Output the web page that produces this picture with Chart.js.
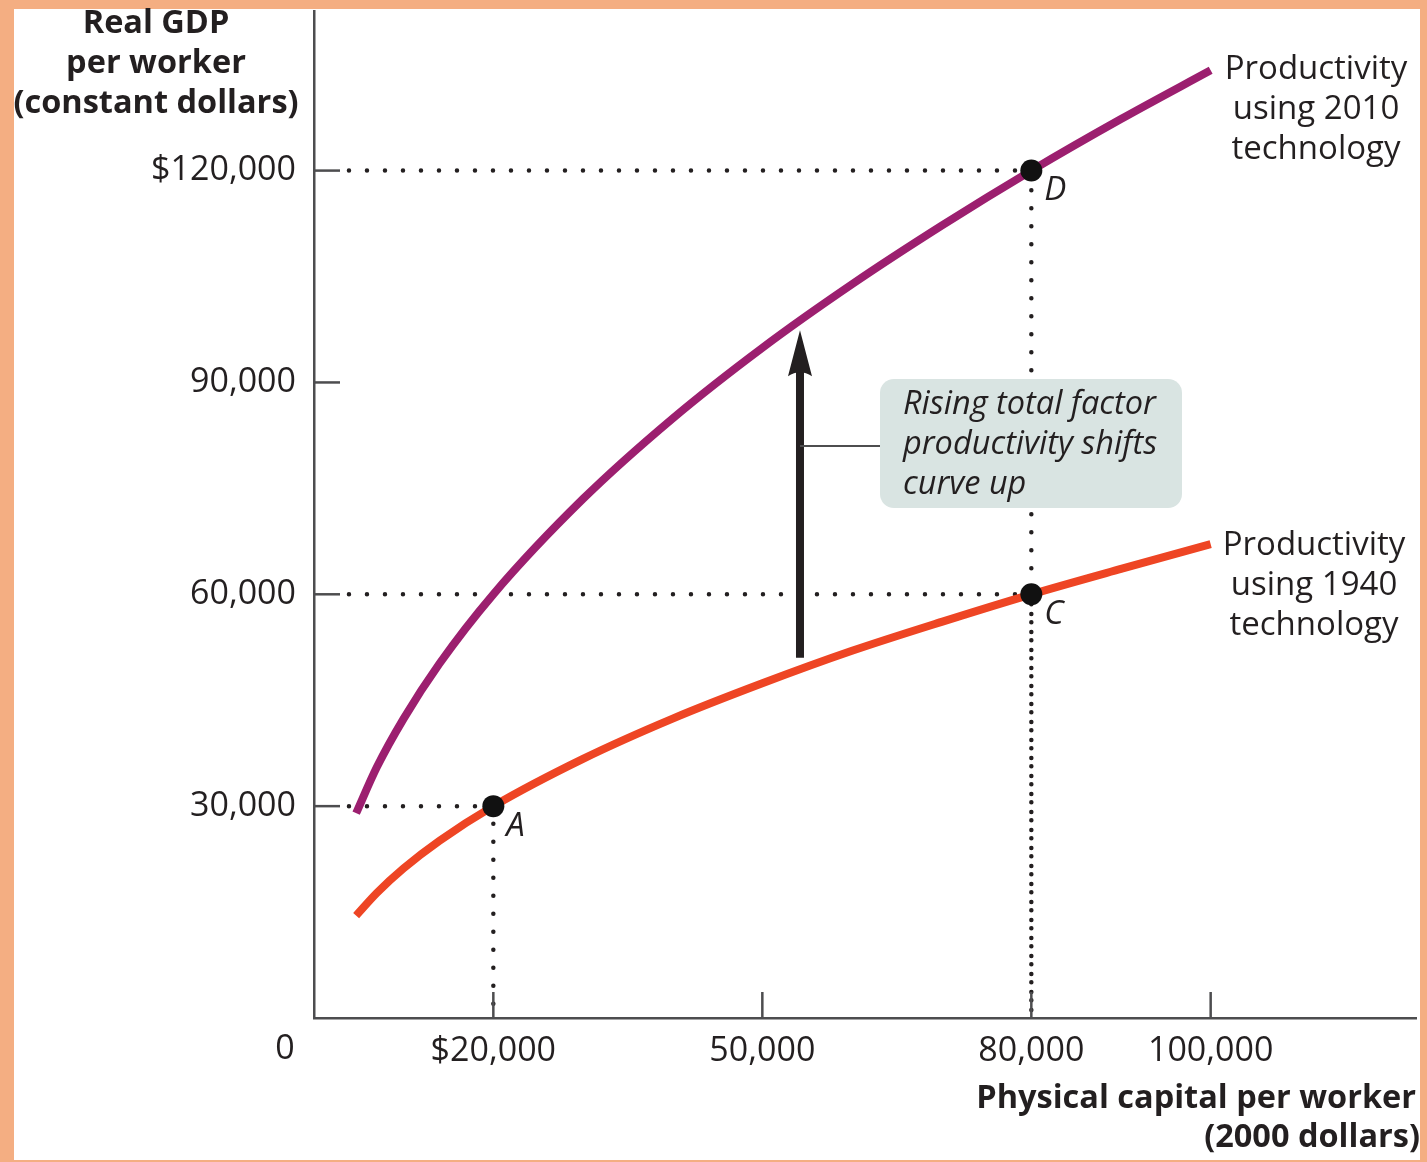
<!DOCTYPE html>
<html>
<head>
<meta charset="utf-8">
<script src="https://cdn.jsdelivr.net/npm/chart.js@4.4.1/dist/chart.umd.min.js"></script>
<style>
  html, body { margin: 0; padding: 0; background: #f4ae82; }
  #wrap { width: 1427px; height: 1162px; }
</style>
</head>
<body>
<div id="wrap"><canvas id="chart" width="1427" height="1162"></canvas></div>
<script>
// physical capital per worker (x) and real GDP per worker (y)
const capital = [4700, 7000, 10000, 14000, 20000, 30000, 40000, 50000, 60000, 70000, 80000, 90000, 100000];
const gdp2010 = [29000, 35500, 42400, 50200, 60000, 73500, 84900, 94900, 103900, 112200, 120000, 127300, 134200];
const gdp1940 = [14500, 17700, 21200, 25100, 30000, 36700, 42400, 47400, 52000, 56100, 60000, 63600, 67100];

// marked points A, C, D
const pointNames = ['A', 'C', 'D'];
const pointX = [20000, 80000, 80000];
const pointY = [30000, 60000, 120000];

// axis ticks
const xTicks = [20000, 50000, 80000, 100000];
const yTicks = [30000, 60000, 90000, 120000];
const xMax = 122900;
const yMax = 142600;
const guideStart = 3900; // dotted guides begin just past the y tick marks

// arrow showing the shift (x position, from / to)
const arrowX = 54200;
const arrowFrom = 51000;
const arrowTo = 97400;

const PURPLE = '#9c1f6f';
const RED = '#ee4524';
const INK = '#231f20';
const FONT = '"Open Sans", "Noto Sans", sans-serif';

const curve = (xs, ys) => xs.map((x, i) => ({ x, y: ys[i] }));

// dotted guide lines: from the y axis to the point, then down to the x axis
const guides = pointNames.map((n, i) => ({
  data: [{ x: guideStart, y: pointY[i] }, { x: pointX[i], y: pointY[i] }, { x: pointX[i], y: 0 }],
  borderColor: INK,
  borderWidth: 4.5,
  borderDash: [0, 18],
  borderCapStyle: 'round',
  pointRadius: 0,
  tension: 0,
  order: 3,
}));

const fmtMoney = (v, first) => (first ? '$' : '') + v.toLocaleString('en-US');

const extras = {
  id: 'extras',
  beforeDraw(chart) {
    const ctx = chart.ctx;
    ctx.save();
    ctx.fillStyle = '#f4ae82';
    ctx.fillRect(0, 0, chart.width, chart.height);
    ctx.fillStyle = '#ffffff';
    ctx.fillRect(14, 9, 1406, 1151);
    ctx.restore();
  },
  afterDatasetsDraw(chart) {
    const ctx = chart.ctx;
    const xs = chart.scales.x;
    const ys = chart.scales.y;
    const x0 = xs.getPixelForValue(0);
    const y0 = ys.getPixelForValue(0);
    ctx.save();

    // inward tick marks
    ctx.strokeStyle = '#4d4d4f';
    ctx.lineWidth = 2.5;
    yTicks.forEach((v) => {
      const y = ys.getPixelForValue(v);
      ctx.beginPath();
      ctx.moveTo(x0, y);
      ctx.lineTo(x0 + 26, y);
      ctx.stroke();
    });
    xTicks.forEach((v) => {
      const x = xs.getPixelForValue(v);
      ctx.beginPath();
      ctx.moveTo(x, y0);
      ctx.lineTo(x, y0 - 26);
      ctx.stroke();
    });

    // arrow
    const ax = xs.getPixelForValue(arrowX);
    const aTop = ys.getPixelForValue(arrowTo);
    const aBot = ys.getPixelForValue(arrowFrom);
    ctx.strokeStyle = INK;
    ctx.lineWidth = 8;
    ctx.beginPath();
    ctx.moveTo(ax, aBot);
    ctx.lineTo(ax, aTop + 30);
    ctx.stroke();
    ctx.fillStyle = INK;
    ctx.beginPath();
    ctx.moveTo(ax, aTop);
    ctx.lineTo(ax + 12, aTop + 46);
    ctx.quadraticCurveTo(ax, aTop + 38, ax - 12, aTop + 46);
    ctx.closePath();
    ctx.fill();

    // label box and leader line
    const bx = 880, by = 379, bw = 302, bh = 129;
    const leadY = 446;
    ctx.strokeStyle = '#4d4d4f';
    ctx.lineWidth = 2;
    ctx.beginPath();
    ctx.moveTo(ax, leadY);
    ctx.lineTo(bx, leadY);
    ctx.stroke();
    ctx.fillStyle = '#d9e4e2';
    ctx.beginPath();
    ctx.roundRect(bx, by, bw, bh, 14);
    ctx.fill();
    ctx.fillStyle = INK;
    ctx.font = 'italic 32.5px ' + FONT;
    ctx.textAlign = 'left';
    ctx.textBaseline = 'middle';
    ['Rising total factor', 'productivity shifts', 'curve up'].forEach((t, i) => {
      ctx.fillText(t, 903, 405 + i * 40);
    });

    // point letters
    ctx.font = 'italic 33px ' + FONT;
    pointNames.forEach((n, i) => {
      const px = xs.getPixelForValue(pointX[i]);
      const py = ys.getPixelForValue(pointY[i]);
      ctx.fillText(n, px + 13, py + 20);
    });

    // curve labels
    ctx.font = '33px ' + FONT;
    ctx.textAlign = 'center';
    ['Productivity', 'using 2010', 'technology'].forEach((t, i) => ctx.fillText(t, 1316, 70 + i * 40));
    ['Productivity', 'using 1940', 'technology'].forEach((t, i) => ctx.fillText(t, 1314, 546 + i * 40));

    // origin label
    ctx.font = '34px ' + FONT;
    ctx.fillText('0', 285, 1049);

    // axis titles
    ctx.font = 'bold 32.5px ' + FONT;
    ['Real GDP', 'per worker', '(constant dollars)'].forEach((t, i) => ctx.fillText(t, 156, 24 + i * 40));
    ctx.textAlign = 'right';
    ctx.fillText('Physical capital per worker', 1416, 1099);
    ctx.fillText('(2000 dollars)', 1420, 1138);
    ctx.restore();
  },
};

new Chart(document.getElementById('chart'), {
  type: 'line',
  data: {
    datasets: [
      {
        label: 'Productivity using 2010 technology',
        data: curve(capital, gdp2010),
        borderColor: PURPLE,
        borderWidth: 8,
        pointRadius: 0,
        cubicInterpolationMode: 'monotone',
        order: 2,
      },
      {
        label: 'Productivity using 1940 technology',
        data: curve(capital, gdp1940),
        borderColor: RED,
        borderWidth: 8,
        pointRadius: 0,
        cubicInterpolationMode: 'monotone',
        order: 2,
      },
      ...guides,
      {
        label: 'points',
        data: curve(pointX, pointY),
        showLine: false,
        pointRadius: 11,
        pointBackgroundColor: '#111',
        pointBorderWidth: 0,
        order: 1,
      },
    ],
  },
  options: {
    responsive: false,
    animation: false,
    events: [],
    layout: { padding: { top: 10, right: 4, left: 0, bottom: 0 } },
    plugins: { legend: { display: false }, tooltip: { enabled: false } },
    scales: {
      x: {
        type: 'linear',
        min: 0,
        max: xMax,
        afterFit: (s) => { s.height = 144; s.paddingLeft = 0; s.paddingRight = 0; },
        afterBuildTicks: (s) => { s.ticks = xTicks.map((value) => ({ value })); },
        grid: { display: false, drawTicks: false },
        border: { display: true, color: '#4d4d4f', width: 2.5 },
        ticks: {
          padding: 13,
          color: INK,
          font: { family: FONT, size: 34 },
          maxRotation: 0,
          callback: (v) => fmtMoney(v, v === xTicks[0]),
        },
      },
      y: {
        type: 'linear',
        min: 0,
        max: yMax,
        afterFit: (s) => { s.width = 314; s.paddingTop = 0; s.paddingBottom = 0; },
        afterBuildTicks: (s) => { s.ticks = yTicks.map((value) => ({ value })); },
        grid: { display: false, drawTicks: false },
        border: { display: true, color: '#4d4d4f', width: 2.5 },
        ticks: {
          padding: 18,
          color: INK,
          font: { family: FONT, size: 34 },
          callback: (v) => fmtMoney(v, v === yTicks[yTicks.length - 1]),
        },
      },
    },
  },
  plugins: [extras],
});
</script>
</body>
</html>
